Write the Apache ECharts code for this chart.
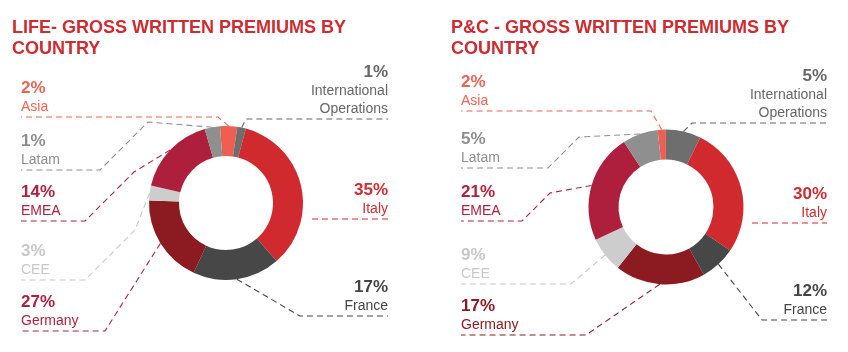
<!DOCTYPE html>
<html>
<head>
<meta charset="utf-8">
<script src="https://cdn.jsdelivr.net/npm/echarts@6/dist/echarts.min.js"></script>
<style>
html, body { margin: 0; padding: 0; background: #fff; }
#main { width: 848px; height: 352px; }
</style>
</head>
<body>
<div id="main"></div>
<script>
// countries, clockwise from the top of each ring
var countries = ['Asia', 'International\nOperations', 'Italy', 'France', 'Germany', 'CEE', 'EMEA', 'Latam'];
// percentages printed next to each slice
var lifePct = [2, 1, 35, 17, 27, 3, 14, 1];
var pcPct = [2, 5, 30, 12, 17, 9, 21, 5];
// slice sizes as drawn in the rings (% of the ring)
var lifeSlice = [3.6, 1.8, 34.4, 18.3, 18.6, 3.1, 16.9, 3.2];
var pcSlice = [1.7, 7.3, 27.2, 7.4, 18.8, 7.4, 22.8, 7.4];

var sliceColors = ['#ee5f52', '#6e6e6e', '#d02a2f', '#474747', '#8b1a21', '#cdcdcd', '#ae1f3d', '#8f8f8f'];
var lifeTextColors = ['#ee6354', '#666666', '#d22a30', '#444444', '#b0203f', '#c8c8c8', '#b0203f', '#8e8e8e'];
var pcTextColors = ['#ee6354', '#666666', '#d22a30', '#444444', '#8b1a22', '#c8c8c8', '#b0203f', '#8e8e8e'];
var sides = ['left', 'right', 'right', 'right', 'left', 'left', 'left', 'left'];
var FONT = '"Liberation Sans", Arial, sans-serif';

// where each label sits: underline y, elbow x, optional knee y
var layouts = [
    { left: 21, right: 388, lines: [
        { y: 117, x: 218 }, { y: 119, x: 246 }, { y: 219, x: 312, flat: true }, { y: 316, x: 300 },
        { y: 331, x: 105 }, { y: 280, x: 85, knee: 230 }, { y: 221, x: 85, knee: 172 }, { y: 170, x: 100, knee: 122 }
    ]},
    { left: 461, right: 827, lines: [
        { y: 111, x: 651 }, { y: 123, x: 692 }, { y: 223, x: 752, flat: true }, { y: 320, x: 762 },
        { y: 335, x: 586 }, { y: 284, x: 571 }, { y: 221, x: 522, knee: 193 }, { y: 168, x: 548, knee: 137 }
    ]}
];

function buildData(slices, textColors) {
    return countries.map(function (name, i) {
        return {
            name: name,
            value: slices[i],
            itemStyle: { color: sliceColors[i] },
            label: { color: textColors[i] },
            labelLine: { lineStyle: { color: textColors[i] } }
        };
    });
}

function labelText(p) {
    var s = sides[p.dataIndex] === 'left' ? 'l' : 'r';
    var pct = (p.seriesIndex === 0 ? lifePct : pcPct)[p.dataIndex];
    var lines = ['{p' + s + '|' + pct + '%}'];
    p.name.split('\n').forEach(function (n) {
        lines.push('{n' + s + '|' + n + '}');
    });
    return lines.join('\n');
}

function placeLabel(params) {
    var lay = layouts[params.seriesIndex];
    var cfg = lay.lines[params.dataIndex];
    var isLeft = sides[params.dataIndex] === 'left';
    var edge = isLeft ? lay.left : lay.right;
    var p0 = params.labelLinePoints[0];
    var pts = [];
    if (cfg.flat) {
        pts.push([cfg.x, cfg.y], [cfg.x, cfg.y]);
    } else {
        pts.push([p0[0], p0[1]]);
        if (cfg.knee != null) {
            pts.push([cfg.x + (isLeft ? 1 : -1) * (cfg.y - cfg.knee), cfg.knee]);
        }
        pts.push([cfg.x, cfg.y]);
    }
    pts.push([edge, cfg.y]);
    return {
        x: edge,
        y: cfg.y - 1,
        align: isLeft ? 'left' : 'right',
        verticalAlign: 'bottom',
        labelLinePoints: pts
    };
}

var myChart = echarts.init(document.getElementById('main'));

var pieBase = {
    type: 'pie',
    avoidLabelOverlap: false,
    emphasis: { disabled: true },
    label: {
        show: true,
        position: 'outside',
        formatter: labelText,
        fontFamily: FONT,
        rich: {
            pl: { fontSize: 17, fontWeight: 'bold', lineHeight: 19, align: 'left', fontFamily: FONT },
            pr: { fontSize: 17, fontWeight: 'bold', lineHeight: 19, align: 'right', fontFamily: FONT },
            nl: { fontSize: 14, lineHeight: 18, align: 'left', fontFamily: FONT },
            nr: { fontSize: 14, lineHeight: 18, align: 'right', fontFamily: FONT }
        }
    },
    labelLine: {
        show: true,
        length: 10,
        length2: 10,
        lineStyle: { width: 1.1, type: [6, 4] }
    },
    labelLayout: placeLabel
};

var option = {
    backgroundColor: '#ffffff',
    animation: false,
    title: [{
        text: 'LIFE- GROSS WRITTEN PREMIUMS BY\nCOUNTRY',
        left: 12,
        top: 17,
        padding: 0,
        textStyle: { fontSize: 18, fontWeight: 'bold', color: '#d12a2f', lineHeight: 21.5, fontFamily: FONT }
    }, {
        text: 'P&C - GROSS WRITTEN PREMIUMS BY\nCOUNTRY',
        left: 451,
        top: 17,
        padding: 0,
        textStyle: { fontSize: 18, fontWeight: 'bold', color: '#d12a2f', lineHeight: 21.5, fontFamily: FONT }
    }],
    series: [
        Object.assign({}, pieBase, {
            name: 'Life',
            center: [226, 203],
            radius: [47, 77],
            startAngle: 94.5,
            data: buildData(lifeSlice, lifeTextColors)
        }),
        Object.assign({}, pieBase, {
            name: 'P&C',
            center: [666, 207],
            radius: [47.5, 77.5],
            startAngle: 96.2,
            data: buildData(pcSlice, pcTextColors)
        })
    ]
};

myChart.setOption(option);
</script>
</body>
</html>
